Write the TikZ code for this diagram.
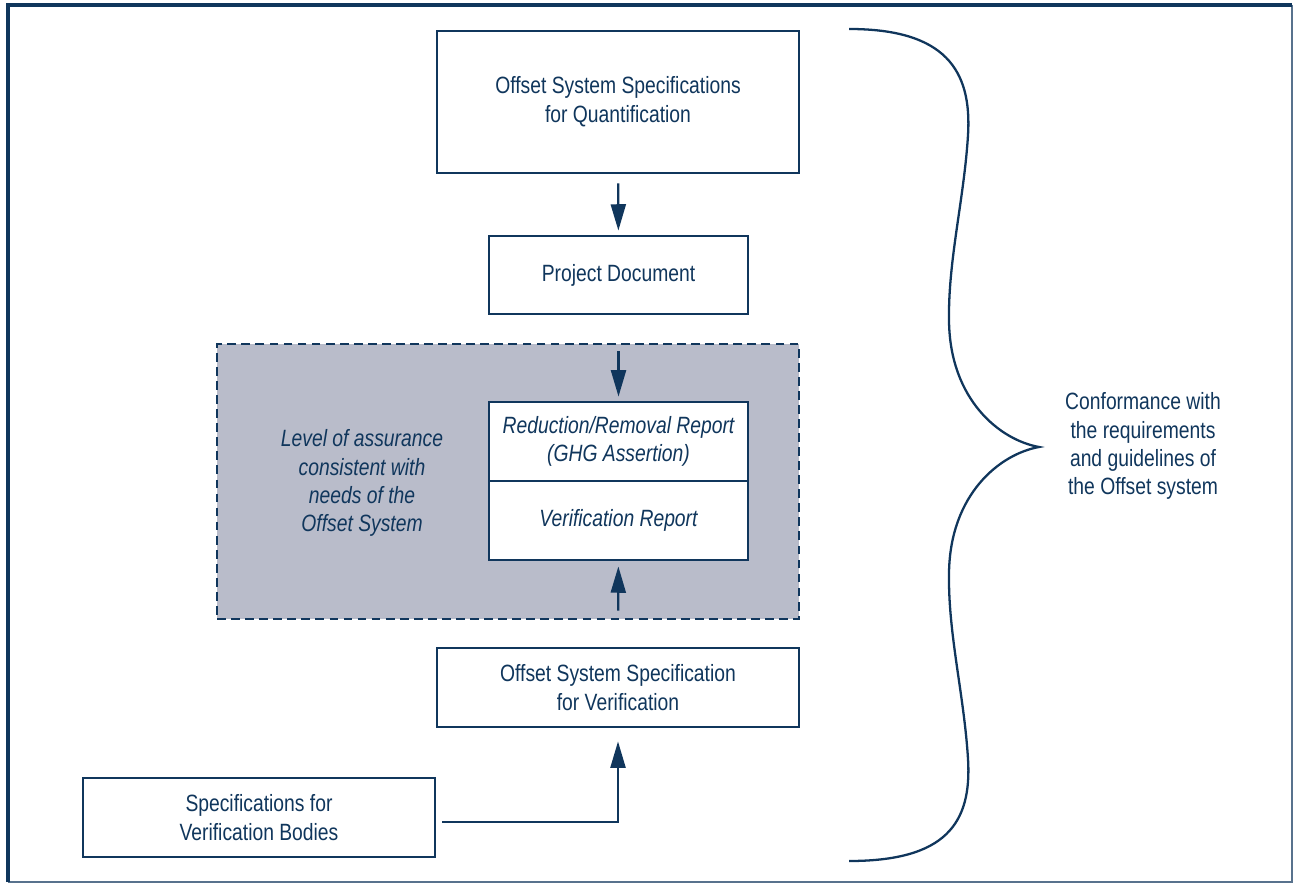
\documentclass[tikz,border=0pt]{standalone}
\usepackage{fontspec}
\setmainfont{Liberation Sans}[FakeStretch=0.82]
\usepackage{xcolor}
\usepackage{tikz}
\usetikzlibrary{positioning,calc,arrows.meta}
\definecolor{navy}{RGB}{16,54,92}
\definecolor{zonegrey}{RGB}{185,188,202}

\begin{document}
\begin{tikzpicture}[x=0.02cm,y=-0.02cm,
    font=\fontsize{13.4}{16.4}\selectfont, text=navy,
    box/.style={draw=navy, line width=1.6pt, fill=white, align=center, inner sep=0pt},
    arr/.style={draw=navy, line width=1.3pt, -{Triangle[length=15pt,width=8.5pt]}}]
    \useasboundingbox (0,0) rectangle (1293,884);

    % Frame
    \draw[navy!70, line width=1pt] (8,882) -- (1292,882) -- (1292,5);
    \draw[navy, line width=2pt] (8,882) -- (8,5) -- (1292,5);

    % Assurance zone
    \node[draw=navy, dash pattern=on 5pt off 3pt, line width=1.4pt, fill=zonegrey,
          minimum width=11.64cm, minimum height=5.5cm] (zone) at (508,481.5) {};
    \node[align=center, font=\fontsize{13.4}{16}\selectfont\itshape] (level) at (362,483)
        {Level of assurance\\consistent with\\needs of the\\Offset System};

    % Boxes
    \node[box, minimum width=7.24cm, minimum height=2.84cm] (quant) at (618,102)
        {Offset System Specifications\\for Quantification};
    \node[box, minimum width=5.18cm, minimum height=1.56cm] (projdoc) at (618.5,275)
        {Project Document};
    \node[box, minimum width=5.18cm, minimum height=1.58cm, font=\fontsize{13.4}{16.4}\selectfont\itshape] (ghg) at (618.5,441.5)
        {Reduction/Removal Report\\(GHG Assertion)};
    \node[box, minimum width=5.18cm, minimum height=1.58cm, font=\fontsize{13.4}{16.4}\selectfont\itshape] (verrep) at (618.5,520.5)
        {Verification Report};
    \node[box, minimum width=7.24cm, minimum height=1.58cm] (verspec) at (618,687.5)
        {Offset System Specification\\for Verification};
    \node[box, minimum width=7.04cm, minimum height=1.58cm] (bodies) at (259,817.5)
        {Specifications for\\Verification Bodies};

    % Arrows
    \draw[arr, shorten <=0.18cm, shorten >=0.08cm] (quant) -- (projdoc);
    \draw[arr, shorten <=0.72cm, shorten >=0.08cm] (projdoc) -- (ghg);
    \draw[arr, shorten <=0.72cm, shorten >=0.1cm] (verspec) -- (verrep);
    \draw[arr, shorten <=0.12cm, shorten >=0.26cm] ($(bodies.east)+(0,4.5)$) -| (verspec.south);

    % Brace
    \draw[navy, line width=1.3pt] (849,29) .. controls (945,29) and (972,70) .. (968,135)
        .. controls (964,200) and (948,260) .. (949,321)
        .. controls (950,400) and (1000,440) .. (1039,447)
        .. controls (1000,454) and (950,494) .. (949,573)
        .. controls (948,634) and (964,694) .. (968,759)
        .. controls (972,824) and (945,861) .. (849,861);
    \node[align=center, font=\fontsize{13.4}{16}\selectfont] (conform) at (1143,446)
        {Conformance with\\the requirements\\and guidelines of\\the Offset system};
\end{tikzpicture}
\end{document}
